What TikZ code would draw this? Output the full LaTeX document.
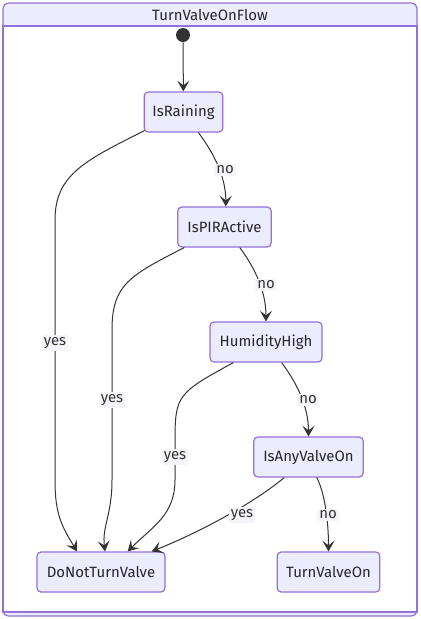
\documentclass[tikz,border=0pt]{standalone}
\usepackage{fontspec}
\setmainfont{Fira Sans}
\usetikzlibrary{arrows.meta}
\definecolor{nodefill}{HTML}{ECECFF}
\definecolor{nodeborder}{HTML}{9370DB}
\definecolor{edgecol}{HTML}{333333}
\definecolor{lblbg}{HTML}{F4F4FA}
\tikzset{
  state/.style={draw=nodeborder, fill=nodefill, line width=0.9pt, rounded corners=3pt,
    minimum height=30pt, inner xsep=6pt, font=\fontsize{11.2}{13}\selectfont, text=black!85},
  edge/.style={draw=edgecol, line width=0.75pt, -{Stealth[length=8pt,width=9pt,inset=3.5pt]}},
  lbl/.style={fill=lblbg, inner sep=1.5pt, font=\fontsize{11.2}{13}\selectfont, text=black!80},
}
\begin{document}
\begin{tikzpicture}[x=0.75pt,y=-0.75pt]
\useasboundingbox (0,0) rectangle (421,619);
% frame
\draw[draw=nodeborder, fill=nodefill, line width=0.9pt, rounded corners=4pt] (3,3) rectangle (417,616);
\draw[draw=nodeborder, fill=white, line width=0.9pt] (3,26) rectangle (417,612);
\node[font=\fontsize{11.2}{13}\selectfont, text=black!85] (title) at (210,15) {TurnValveOnFlow};
% start
\node[circle, fill=edgecol, minimum size=10.5pt, inner sep=0pt] (start) at (183,35) {};
% states
\node[state, minimum width=59pt] (rain) at (183.5,112) {IsRaining};
\node[state, minimum width=70pt] (pir) at (224.5,227) {IsPIRActive};
\node[state, minimum width=84pt] (hum) at (266,342) {HumidityHigh};
\node[state, minimum width=82pt] (any) at (308.5,457) {IsAnyValveOn};
\node[state, minimum width=96pt] (dont) at (101,572) {DoNotTurnValve};
\node[state, minimum width=77pt] (on) at (328.5,572) {TurnValveOn};
% edges
\draw[edge] (start) -- (rain);
% no edges
\draw[edge] (rain.south east) ++(-25,0) .. controls +(15,20) and +(0,-30) .. ([xshift=1pt]pir.north);
\draw[edge] (pir.south east) ++(-32,0) .. controls +(15,20) and +(0,-30) .. (hum.north);
\draw[edge] (hum.south east) ++(-41,0) .. controls +(15,20) and +(0,-30) .. (any.north);
\draw[edge] (any.south east) ++(-47,0) .. controls +(8,15) and +(0,-30) .. (on.north);
% yes edges
\draw[edge] (rain.south west) ++(1,-2) .. controls +(-60,30) and +(0,-45) .. (55,220) -- (55,480)
   .. controls +(0,35) and +(-15,-25) .. ([xshift=-18pt]dont.north);
\draw[edge] (pir.south west) ++(7,0) .. controls +(-55,28) and +(0,-45) .. (112,330) -- (112,480)
   .. controls +(0,35) and +(-3,-25) .. ([xshift=3pt]dont.north);
\draw[edge] (hum.south west) ++(24,0) .. controls +(-55,30) and +(0,-45) .. (175,440) -- (175,480)
   .. controls +(0,35) and +(25,-25) .. ([xshift=20pt]dont.north);
\draw[edge] (any.south west) ++(31,0) .. controls +(-30,25) and +(50,-20) .. ([xshift=38pt]dont.north);
% labels
\node[lbl] (l1) at (225,170) {no};
\node[lbl] (l2) at (266,285) {no};
\node[lbl] (l3) at (308,400) {no};
\node[lbl] (l4) at (328,515) {no};
\node[lbl] (y1) at (55,343) {yes};
\node[lbl] (y2) at (112,400) {yes};
\node[lbl] (y3) at (175,457) {yes};
\node[lbl] (y4) at (242,515) {yes};
\end{tikzpicture}
\end{document}
